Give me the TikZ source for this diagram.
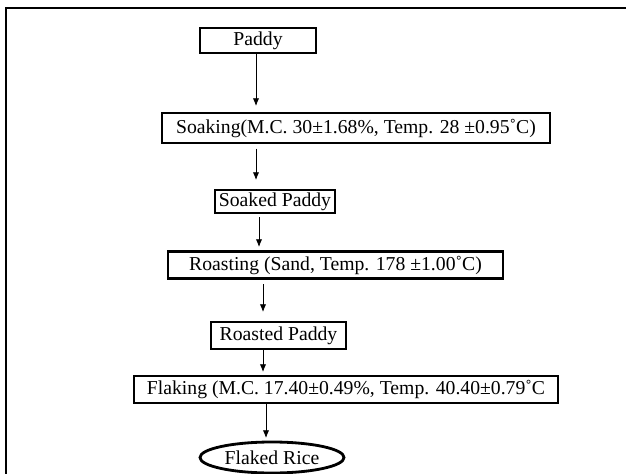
\documentclass[tikz,border=0pt]{standalone}
\usepackage{fontspec}
\setmainfont{Liberation Serif}
\usetikzlibrary{arrows.meta,shapes.geometric}

\tikzset{
  stage/.style={draw,line width=2pt,inner sep=0pt,font=\fontsize{14}{16}\selectfont},
  flow/.style={-{Latex[length=5.5pt,width=4.5pt]},line width=0.6pt}
}

\begin{document}
\begin{tikzpicture}[x=0.025cm,y=-0.025cm]
            \useasboundingbox (0,0) rectangle (626,474);
            \draw[line width=1.5pt] (626,8)--(6,8)--(6,474);
            \node[stage,minimum width=2.9cm,minimum height=0.625cm] (paddy) at (258,40.5) {Paddy};
            \node[stage,minimum width=9.7cm,minimum height=0.75cm] (soak) at (356,128) {Soaking(M.C. 30±1.68\%, Temp. 28 ±0.95˚C)};
            \node[stage,minimum width=3cm,minimum height=0.575cm] (soaked) at (275,201.5) {Soaked Paddy};
            \node[stage,minimum width=8.375cm,minimum height=0.675cm] (roast) at (335.5,265) {Roasting (Sand, Temp. 178 ±1.00˚C)\hspace{14pt}};
            \node[stage,minimum width=3.375cm,minimum height=0.675cm] (roasted) at (278.5,335.5) {Roasted Paddy};
            \node[stage,minimum width=10.6cm,minimum height=0.675cm] (flak) at (346,389.5) {Flaking (M.C. 17.40±0.49\%, Temp. 40.40±0.79˚C};
            \node[stage,ellipse,minimum width=3.6cm,minimum height=0.775cm] (flaked) at (272,457.5) {Flaked Rice};
            % arrow tips
            \coordinate (t1) at (256,106);
            \coordinate (t2) at (256,180);
            \coordinate (t3) at (259,247);
            \coordinate (t4) at (263,312);
            \coordinate (t5) at (263,372);
            \coordinate (t6) at (266,438);
            \draw[flow] (paddy.south -| t1)--(t1);
            \draw[flow,shorten <=3pt] (soak.south -| t2)--(t2);
            \draw[flow,shorten <=2pt] (soaked.south -| t3)--(t3);
            \draw[flow,shorten <=3pt] (roast.south -| t4)--(t4);
            \draw[flow] (roasted.south -| t5)--(t5);
            \draw[flow] (flak.south -| t6)--(t6);
        \end{tikzpicture}
\end{document}
